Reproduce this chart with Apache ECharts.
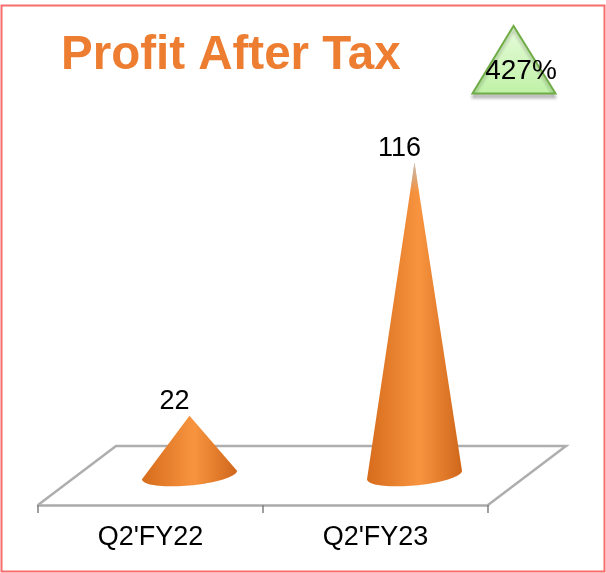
<!DOCTYPE html>
<html>
<head>
<meta charset="utf-8">
<style>
  html, body { margin: 0; padding: 0; background: #fff; }
  #chart { width: 606px; height: 573px; }
</style>
<script src="https://cdn.jsdelivr.net/npm/echarts@6/dist/echarts.min.js"></script>
</head>
<body>
<div id="chart"></div>
<script>
const categories = ["Q2'FY22", "Q2'FY23"];
const profit = [22, 116];
const titleText = 'Profit After Tax';
const growthText = '427%';

const fontName = '"Liberation Sans", Arial, sans-serif';
const depthX = 39; // cones stand in the middle of the 3d floor
const coneHalf = 47.5;

const myChart = echarts.init(document.getElementById('chart'));

function renderCone(params, api) {
    const idx = api.value(0);
    const top = api.coord([idx, api.value(1)]);
    const base = api.coord([idx, 0]);
    const cx = base[0] + depthX;
    const ax = top[0] + depthX;
    const points = [[ax, top[1]]];
    // lower half of the tilted base ellipse, left to right
    for (let i = 0; i <= 40; i++) {
        const t = Math.PI - Math.PI * i / 40;
        const dx = coneHalf * Math.cos(t);
        points.push([cx + dx, base[1] + 10.5 * Math.sin(t) - dx * 0.09]);
    }
    const tipFade = (base[1] - top[1]) > 100;
    const children = [
        {
            type: 'polygon',
            shape: {points: points},
            style: {
                fill: new echarts.graphic.LinearGradient(0, 0, 1, 0, [
                    {offset: 0, color: '#d66c1c'},
                    {offset: 0.55, color: '#f8943f'},
                    {offset: 1, color: '#cf671b'}
                ])
            }
        },
        {
            type: 'text',
            style: {
                text: String(api.value(1)),
                x: ax - 15,
                y: top[1] - 14,
                fill: '#000',
                font: '27px ' + fontName,
                align: 'center',
                verticalAlign: 'middle'
            }
        }
    ];
    if (tipFade) {
        // tall cone fades to grey right at the tip
        const h = 30;
        const w = coneHalf * h / (base[1] - top[1]);
        children.push({
            type: 'polygon',
            shape: {points: [[ax, top[1]], [ax - w, top[1] + h], [ax + w, top[1] + h]]},
            style: {
                fill: new echarts.graphic.LinearGradient(0, 0, 0, 1, [
                    {offset: 0, color: 'rgba(190,190,190,0.95)'},
                    {offset: 1, color: 'rgba(190,190,190,0)'}
                ])
            }
        });
    }
    return {type: 'group', children: children};
}

const option = {
    animation: false,
    backgroundColor: '#fff',
    title: {
        text: titleText,
        left: 56,
        top: 27,
        textStyle: {
            color: '#ed7d31',
            fontFamily: fontName,
            fontWeight: 'bold',
            fontSize: 47.5
        }
    },
    grid: {left: 38, width: 450, top: 98, bottom: 98},
    xAxis: {
        type: 'category',
        data: categories,
        position: 'bottom',
        offset: 30,
        axisLine: {onZero: false, lineStyle: {color: '#aaaaaa', width: 2.5}},
        axisTick: {show: true, length: 8, lineStyle: {color: '#808080', width: 1.5}},
        axisLabel: {color: '#000', fontFamily: fontName, fontSize: 27, margin: 19}
    },
    yAxis: {type: 'value', min: 0, max: 140, show: false},
    series: [{
        type: 'custom',
        renderItem: renderCone,
        clip: false,
        data: profit.map((v, i) => [i, v])
    }],
    graphic: [
        {
            type: 'rect',
            z: 0,
            shape: {x: 1.5, y: 5.5, width: 603, height: 566},
            style: {fill: 'none', stroke: '#f76c6c', lineWidth: 2}
        },
        {
            type: 'polyline',
            z: 0,
            shape: {points: [[38, 505], [116, 446], [566, 446], [488, 505]]},
            style: {fill: 'none', stroke: '#aeaeae', lineWidth: 2.5}
        },
        {
            type: 'polygon',
            z: 5,
            shape: {points: [[513.5, 26], [472.5, 93.5], [555.5, 93.5]]},
            style: {
                fill: new echarts.graphic.LinearGradient(0, 0, 0, 1, [
                    {offset: 0, color: '#e8fbdc'},
                    {offset: 1, color: '#bff2a6'}
                ]),
                stroke: '#70ad47',
                lineWidth: 2,
                shadowBlur: 3,
                shadowOffsetY: 4,
                shadowColor: 'rgba(0,0,0,0.22)'
            }
        },
        {
            type: 'text',
            z: 6,
            style: {
                text: growthText,
                x: 521,
                y: 71,
                fill: '#000',
                font: '28px ' + fontName,
                align: 'center',
                verticalAlign: 'middle'
            }
        }
    ]
};

myChart.setOption(option);
</script>
</body>
</html>
